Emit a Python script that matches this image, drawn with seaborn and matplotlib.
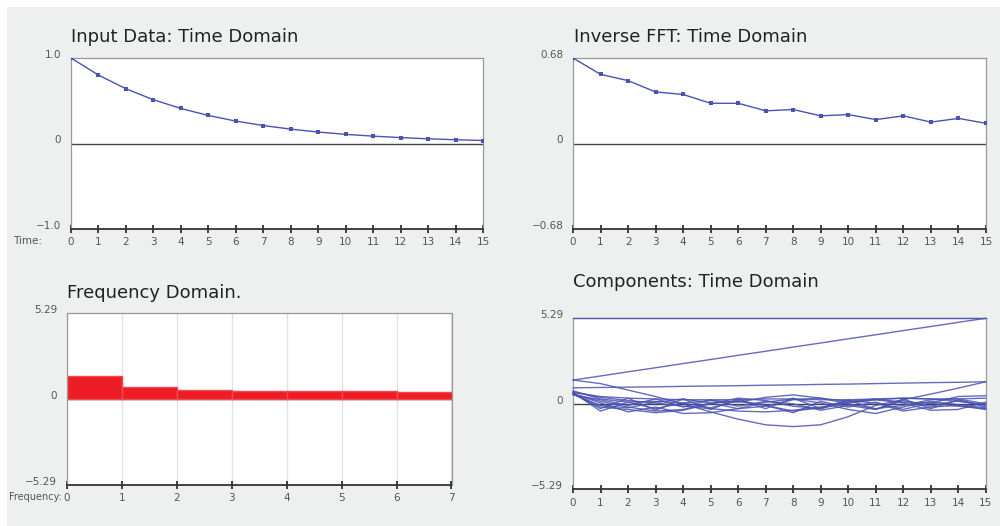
import numpy as np
import pandas as pd
import matplotlib
matplotlib.use('Agg')
import matplotlib.pyplot as plt
import matplotlib.transforms as mtransforms
from matplotlib.patches import Rectangle
import seaborn as sns

# --- data ---
time = list(range(16))
input_data = [1.0, 0.8, 0.64, 0.512, 0.41, 0.328, 0.262, 0.21, 0.168, 0.134,
              0.107, 0.086, 0.069, 0.055, 0.044, 0.035]
inverse_fft = [0.68, 0.55, 0.50, 0.41, 0.39, 0.32, 0.32, 0.26, 0.27, 0.22,
               0.23, 0.19, 0.22, 0.17, 0.20, 0.16]

freq = list(range(7))
magnitude = [1.45, 0.77, 0.58, 0.53, 0.53, 0.53, 0.46]

comp_flat = [5.29, 5.29, 5.29, 5.29, 5.29, 5.29, 5.29, 5.29,
             5.29, 5.29, 5.29, 5.29, 5.29, 5.29, 5.29, 5.29]
comp_ramp = [1.47, 1.72, 1.98, 2.23, 2.49, 2.74, 3.00, 3.25,
             3.51, 3.76, 4.02, 4.27, 4.53, 4.78, 5.04, 5.29]
comp_slow = [1.47, 1.25, 0.85, 0.45, 0.00, -0.50, -0.95, -1.30,
             -1.41, -1.30, -0.80, -0.10, 0.25, 0.60, 0.97, 1.36]
comp_tilt = [0.99, 1.01, 1.03, 1.05, 1.08, 1.10, 1.12, 1.15,
             1.17, 1.20, 1.22, 1.25, 1.28, 1.31, 1.33, 1.36]
comp_b1 = [0.80, 0.30, 0.10, 0.15, 0.05, 0.20, 0.10, 0.40, 0.55, 0.35, 0.15, 0.30, 0.10, 0.05, 0.45, 0.50]
comp_b2 = [0.70, -0.45, 0.10, -0.30, 0.05, -0.25, 0.20, -0.10, -0.55, 0.15, -0.20, 0.10, -0.35, 0.05, -0.15, -0.30]
comp_b3 = [0.65, 0.05, -0.50, -0.20, -0.60, -0.55, -0.30, 0.10, 0.30, 0.05, -0.35, -0.60, -0.20, 0.15, -0.05, -0.25]
comp_b4 = [0.60, -0.20, -0.35, -0.55, -0.40, 0.00, 0.35, 0.20, -0.15, -0.30, 0.10, 0.25, 0.05, -0.40, -0.35, 0.10]
comp_b5 = [0.55, 0.25, -0.10, 0.30, -0.20, 0.25, -0.15, 0.15, 0.00, -0.40, -0.10, -0.35, 0.20, -0.15, 0.20, -0.10]
comp_b6 = [0.75, 0.40, 0.20, 0.05, -0.15, -0.30, -0.45, -0.50, -0.40, -0.20, 0.05, 0.25, 0.35, 0.30, 0.15, -0.05]
comp_b7 = [0.60, -0.10, -0.25, 0.10, 0.30, 0.05, -0.30, -0.15, 0.25, 0.35, 0.00, -0.30, -0.10, 0.25, 0.30, 0.00]
comp_b8 = [0.70, 0.45, 0.35, 0.30, 0.25, 0.25, 0.25, 0.30, 0.30, 0.25, 0.25, 0.30, 0.35, 0.30, 0.30, 0.35]
comp_b9 = [0.65, -0.30, 0.35, -0.40, 0.30, -0.35, 0.30, -0.30, 0.35, -0.30, 0.25, -0.35, 0.30, -0.30, 0.25, -0.20]
comp_b10 = [0.60, 0.15, -0.20, -0.45, -0.35, 0.05, 0.15, -0.10, -0.45, -0.25, 0.20, 0.05, -0.45, -0.20, -0.10, -0.35]
components = [comp_flat, comp_ramp, comp_slow, comp_tilt, comp_b1, comp_b2, comp_b3,
              comp_b4, comp_b5, comp_b6, comp_b7, comp_b8, comp_b9, comp_b10]

BLUE = '#4a52b2'
RED = '#ee1d25'
BG = '#eeefef'

sns.set_style('white')
plt.rcParams['font.family'] = ['DejaVu Sans']

fig = plt.figure(figsize=(10, 5.26), dpi=100)
fig.patch.set_facecolor('white')
fig.patches.append(Rectangle((7 / 1000, 0), 1, 519 / 526, transform=fig.transFigure,
                             facecolor=BG, edgecolor='none', zorder=-10))


def px_axes(left, right, top, bottom):
    return fig.add_axes([left / 1000, (526 - bottom) / 526,
                         (right - left) / 1000, (bottom - top) / 526])


def style_axes(ax, xmax, ylim, ylabels):
    ax.set_facecolor('white')
    ax.set_xlim(0, xmax)
    ax.set_ylim(-ylim, ylim)
    ax.set_xticks(range(xmax + 1))
    ax.set_yticks([-ylim, 0, ylim])
    ax.set_yticklabels(ylabels)
    ax.tick_params(axis='x', direction='inout', length=6, width=1.2, color='#222',
                   labelsize=7.5, labelcolor='#555', pad=3, bottom=True)
    ax.tick_params(axis='y', length=0, labelsize=7.5, labelcolor='#555', pad=7)
    for lbl in ax.get_yticklabels():
        lbl.set_transform(lbl.get_transform() +
                          mtransforms.ScaledTranslation(0, 3 / 72, fig.dpi_scale_trans))
    for side in ['left', 'top', 'right']:
        ax.spines[side].set_color('#999999')
        ax.spines[side].set_linewidth(0.9)
    ax.spines['bottom'].set_color('#333333')
    ax.spines['bottom'].set_linewidth(1.3)
    ax.axhline(0, color='#444444', lw=1, zorder=1)
    ax.set_xlabel('')
    ax.set_ylabel('')


# Input data
ax1 = px_axes(71, 483, 58, 229)
sns.lineplot(x=time, y=input_data, ax=ax1, color=BLUE, lw=1, marker='s',
             markersize=2.6, markeredgewidth=0, zorder=3)
style_axes(ax1, 15, 1.0, ['\u22121.0', '0', '1.0'])
fig.text(71 / 1000, 1 - 42.5 / 526, 'Input Data: Time Domain', fontsize=13,
         color='#222', va='baseline')
fig.text(42 / 1000, 1 - 244 / 526, 'Time:', fontsize=7.5, color='#555',
         ha='right', va='baseline')

# Inverse FFT
ax2 = px_axes(573, 986, 58, 229)
sns.lineplot(x=time, y=inverse_fft, ax=ax2, color=BLUE, lw=1, marker='s',
             markersize=2.6, markeredgewidth=0, zorder=3)
style_axes(ax2, 15, 0.68, ['\u22120.68', '0', '0.68'])
fig.text(574 / 1000, 1 - 42.5 / 526, 'Inverse FFT: Time Domain', fontsize=13,
         color='#222', va='baseline')

# Frequency domain
freq_df = pd.DataFrame({'freq': freq, 'magnitude': magnitude})
ax3 = px_axes(67, 451.5, 313.3, 485)
sns.histplot(data=freq_df, x='freq', weights='magnitude', bins=len(freq),
             binrange=(0, len(freq)), ax=ax3, color=RED, alpha=1,
             edgecolor='#f04a50', zorder=2)
style_axes(ax3, 7, 5.29, ['\u22125.29', '0', '5.29'])
ax3.xaxis.grid(True, color='#e2e2e2', lw=1, zorder=0)
ax3.set_axisbelow(True)
fig.text(67 / 1000, 1 - 298 / 526, 'Frequency Domain.', fontsize=13,
         color='#222', va='baseline')
fig.text(62 / 1000, 1 - 500 / 526, 'Frequency:', fontsize=7, color='#555',
         ha='right', va='baseline')

# Components
ax4 = px_axes(573, 985.7, 318.3, 489.3)
for comp in components:
    sns.lineplot(x=time, y=comp, ax=ax4, color=BLUE, lw=1, alpha=0.85, zorder=3,
                 clip_on=False)
style_axes(ax4, 15, 5.29, ['\u22125.29', '0', '5.29'])
fig.text(573 / 1000, 1 - 286.7 / 526, 'Components: Time Domain', fontsize=13,
         color='#222', va='baseline')

fig.savefig('out.png', dpi=100, facecolor=fig.get_facecolor())
